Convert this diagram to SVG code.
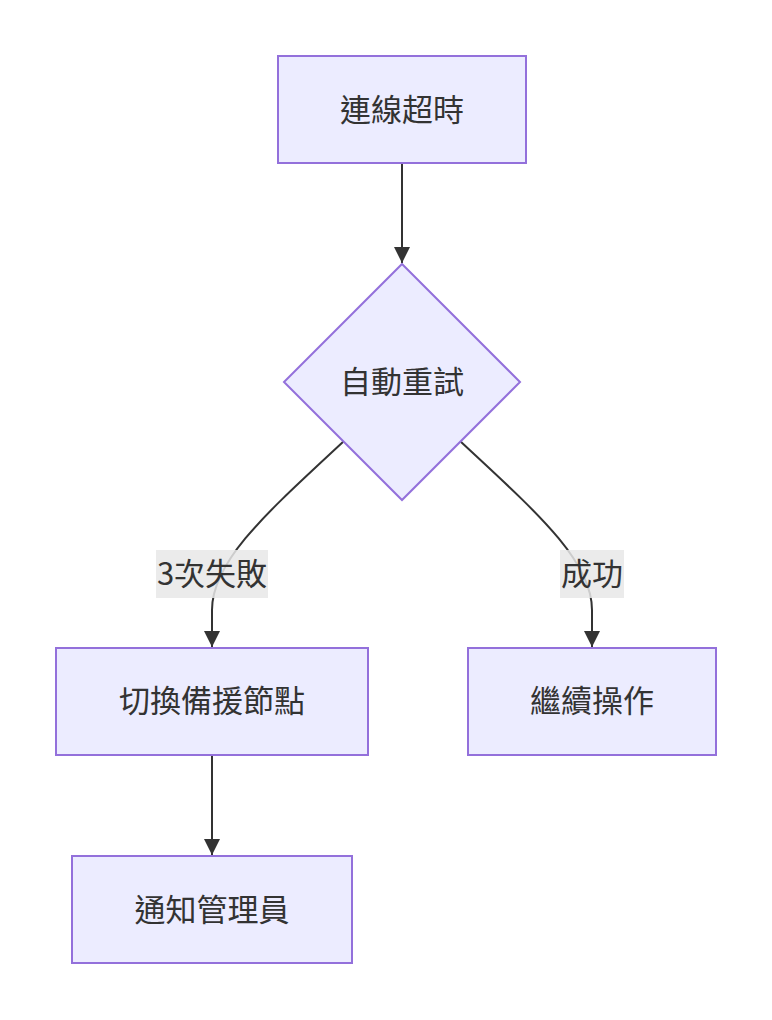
<svg xmlns="http://www.w3.org/2000/svg" width="772" height="1020" viewBox="0 0 772 1020">
<defs>
<style>
.node{fill:#ECECFF;stroke:#9370DB;stroke-width:2}
.lbl{font-family:"Noto Sans CJK TC","Noto Sans",sans-serif;font-size:31px;fill:#333;text-anchor:middle;dominant-baseline:central}
.edge{fill:none;stroke:#333;stroke-width:2}
.ebg{fill:#e8e8e8;fill-opacity:0.85}
</style>
<marker id="arr" viewBox="0 0 10 10" refX="10" refY="5" markerWidth="16" markerHeight="16" markerUnits="userSpaceOnUse" orient="auto"><path d="M0,0 L10,5 L0,10 z" fill="#333"/></marker>
</defs>
<rect width="772" height="1020" fill="#fff"/>
<g id="edges">
<path class="edge" d="M402,164 L402,263" marker-end="url(#arr)"/>
<path class="edge" d="M344,441 C270,510 212,560 212,610 L212,647" marker-end="url(#arr)"/>
<path class="edge" d="M460,441 C534,510 592,560 592,610 L592,647" marker-end="url(#arr)"/>
<path class="edge" d="M212,756 L212,855" marker-end="url(#arr)"/>
</g>
<g id="edge-labels">
<g id="label-fail"><rect class="ebg" x="156" y="550" width="112" height="48"/><text class="lbl" x="212" y="571">3次失敗</text></g>
<g id="label-ok"><rect class="ebg" x="560" y="550" width="64" height="48"/><text class="lbl" x="592" y="571">成功</text></g>
</g>
<g id="timeout"><rect class="node" x="278" y="56" width="248" height="107"/><text class="lbl" x="402" y="107">連線超時</text></g>
<g id="retry"><polygon class="node" points="402,264 520,382 402,500 284,382"/><text class="lbl" x="402" y="379">自動重試</text></g>
<g id="switch"><rect class="node" x="56" y="648" width="312" height="107"/><text class="lbl" x="212" y="698">切換備援節點</text></g>
<g id="continue"><rect class="node" x="468" y="648" width="248" height="107"/><text class="lbl" x="592" y="698">繼續操作</text></g>
<g id="notify"><rect class="node" x="72" y="856" width="280" height="107"/><text class="lbl" x="212" y="907">通知管理員</text></g>
</svg>
